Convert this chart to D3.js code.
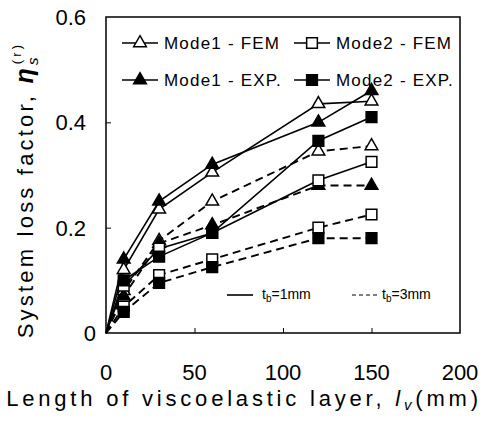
<!doctype html>
<html lang="en">
    <head>
        <meta charset="utf-8">
        <title>System loss factor</title>
        <script type="text/javascript" src="https://cdn.jsdelivr.net/npm/d3@7"></script>
        <style>
            body { margin: 0; background: #fff; }
            text { font-family: "Liberation Sans", Arial, sans-serif; fill: #000; }
        </style>
    </head>
    <body>
        <script type="text/javascript">
            var svgW = 484;
            var svgH = 424;
            var frame = {left: 106, right: 460, top: 17, bottom: 333};

            // values
            var lengths = [0, 10, 30, 60, 120, 150];
            var mode1Fem1 = [0, 0.12, 0.235, 0.305, 0.435, 0.44];
            var mode1Exp1 = [0, 0.14, 0.25, 0.32, 0.40, 0.46];
            var mode2Fem1 = [0, 0.09, 0.16, 0.19, 0.29, 0.325];
            var mode2Exp1 = [0, 0.10, 0.145, 0.19, 0.365, 0.41];
            var mode1Fem3 = [0, 0.08, 0.175, 0.25, 0.345, 0.355];
            var mode1Exp3 = [0, 0.07, 0.17, 0.205, 0.28, 0.28];
            var mode2Fem3 = [0, 0.05, 0.11, 0.14, 0.20, 0.225];
            var mode2Exp3 = [0, 0.04, 0.095, 0.125, 0.18, 0.18];

            var xTicks = [0, 50, 100, 150, 200];
            var yTicks = [0, 0.2, 0.4, 0.6];
            var legendNames = ["Mode1 - FEM", "Mode2 - FEM", "Mode1 - EXP.", "Mode2 - EXP."];
            var thickLabels = ["1mm", "3mm"];

            var series = [
                {values: mode1Fem3, mode: 1, filled: false, dashed: true},
                {values: mode1Exp3, mode: 1, filled: true, dashed: true},
                {values: mode2Fem3, mode: 2, filled: false, dashed: true},
                {values: mode2Exp3, mode: 2, filled: true, dashed: true},
                {values: mode2Fem1, mode: 2, filled: false, dashed: false},
                {values: mode2Exp1, mode: 2, filled: true, dashed: false},
                {values: mode1Fem1, mode: 1, filled: false, dashed: false},
                {values: mode1Exp1, mode: 1, filled: true, dashed: false}
            ];

            var xScale = d3.scaleLinear()
                           .domain([0, 200])
                           .range([frame.left, frame.right]);

            var yScale = d3.scaleLinear()
                           .domain([0, 0.6])
                           .range([frame.bottom, frame.top]);

            var triangle = d3.symbol().type(d3.symbolTriangle).size(70);
            var square = d3.symbol().type(d3.symbolSquare).size(115);
            var markerPath = s => s.mode === 1 ? triangle() : square();

            var svg = d3.select("body")
                        .append("svg")
                        .attr("width", svgW)
                        .attr("height", svgH);

            // frame
            svg.append("rect")
               .attr("x", frame.left)
               .attr("y", frame.top)
               .attr("width", frame.right - frame.left)
               .attr("height", frame.bottom - frame.top)
               .attr("fill", "none")
               .attr("stroke", "#000")
               .attr("stroke-width", 1.5);

            // inward ticks
            var xAxis = d3.axisTop(xScale)
                          .tickValues(xTicks.slice(1, -1))
                          .tickSize(5)
                          .tickFormat("");
            svg.append("g")
               .attr("transform", "translate(0," + frame.bottom + ")")
               .call(xAxis)
               .call(g => g.select(".domain").remove());

            var yAxis = d3.axisRight(yScale)
                          .tickValues(yTicks.slice(1, -1))
                          .tickSize(5)
                          .tickFormat("");
            svg.append("g")
               .attr("transform", "translate(" + frame.left + ",0)")
               .call(yAxis)
               .call(g => g.select(".domain").remove());

            // tick labels
            svg.selectAll("text.xlab")
               .data(xTicks)
               .enter()
               .append("text")
               .attr("class", "xlab")
               .attr("x", d => xScale(d))
               .attr("y", 380)
               .attr("text-anchor", "middle")
               .attr("font-size", 22)
               .text(d => d);

            svg.selectAll("text.ylab")
               .data(yTicks)
               .enter()
               .append("text")
               .attr("class", "ylab")
               .attr("x", d => d === 0 ? 96 : 86)
               .attr("y", d => yScale(d) + 8)
               .attr("text-anchor", "end")
               .attr("font-size", 22)
               .text(d => d === 0 ? "0" : d3.format(".1f")(d));

            // lines
            var line = d3.line()
                         .x((_, i) => xScale(lengths[i]))
                         .y(d => yScale(d));

            svg.selectAll("path.series")
               .data(series)
               .enter()
               .append("path")
               .attr("class", "series")
               .attr("d", d => line(d.values))
               .attr("fill", "none")
               .attr("stroke", "#000")
               .attr("stroke-width", d => d.dashed ? 1.9 : 1.6)
               .attr("stroke-dasharray", d => d.dashed ? "8,5" : null);

            // markers (skip the origin)
            series.forEach(s => {
                svg.selectAll(null)
                   .data(s.values.slice(1))
                   .enter()
                   .append("path")
                   .attr("d", markerPath(s))
                   .attr("transform", (d, i) => "translate(" + xScale(lengths[i + 1]) + "," + yScale(d) + ")")
                   .attr("fill", s.filled ? "#000" : "#fff")
                   .attr("stroke", "#000")
                   .attr("stroke-width", 1.5);
            });

            // legend
            var legendItems = [
                {name: legendNames[0], mode: 1, filled: false, x: 122, y: 43},
                {name: legendNames[1], mode: 2, filled: false, x: 294, y: 43},
                {name: legendNames[2], mode: 1, filled: true, x: 122, y: 80},
                {name: legendNames[3], mode: 2, filled: true, x: 294, y: 80}
            ];

            var legend = svg.selectAll("g.legend")
                            .data(legendItems)
                            .enter()
                            .append("g")
                            .attr("class", "legend")
                            .attr("transform", d => "translate(" + d.x + "," + d.y + ")");

            legend.append("line")
                  .attr("x1", 0)
                  .attr("x2", 36)
                  .attr("stroke", "#000")
                  .attr("stroke-width", 1.6);

            legend.append("path")
                  .attr("d", d => markerPath(d))
                  .attr("transform", "translate(18,0)")
                  .attr("fill", d => d.filled ? "#000" : "#fff")
                  .attr("stroke", "#000")
                  .attr("stroke-width", 1.5);

            legend.append("text")
                  .attr("x", 42)
                  .attr("y", 6)
                  .attr("font-size", 17)
                  .attr("letter-spacing", 1.2)
                  .text(d => d.name);

            // thickness legend
            var thick = svg.selectAll("g.thick")
                           .data(thickLabels)
                           .enter()
                           .append("g")
                           .attr("class", "thick")
                           .attr("transform", (_, i) => "translate(" + (227 + i * 125) + ",295)");

            thick.append("line")
                 .attr("x1", 0)
                 .attr("x2", 26)
                 .attr("stroke", "#000")
                 .attr("stroke-width", (_, i) => i === 0 ? 1.6 : 1.2)
                 .attr("stroke-dasharray", (_, i) => i === 0 ? null : "4,3");

            var thickText = thick.append("text")
                                 .attr("x", (_, i) => i === 0 ? 35 : 30)
                                 .attr("y", 4)
                                 .attr("font-size", 14);
            thickText.append("tspan").text("t");
            thickText.append("tspan")
                     .attr("dy", 3)
                     .attr("font-size", 10)
                     .text("b");
            thickText.append("tspan")
                     .attr("dy", -3)
                     .text(d => "=" + d);

            // axis titles
            var xTitle = svg.append("text")
                            .attr("x", 244)
                            .attr("y", 406)
                            .attr("text-anchor", "middle")
                            .attr("font-size", 22)
                            .attr("letter-spacing", 3.8);
            xTitle.append("tspan").text("Length of viscoelastic layer, ");
            xTitle.append("tspan")
                  .attr("font-style", "italic")
                  .text("l");
            xTitle.append("tspan")
                  .attr("dy", 4)
                  .attr("font-size", 15)
                  .attr("font-style", "italic")
                  .text("v");
            xTitle.append("tspan")
                  .attr("dy", -4)
                  .text("(mm)");

            var yTitle = svg.append("text")
                            .attr("transform", "translate(33,190) rotate(-90)")
                            .attr("text-anchor", "middle")
                            .attr("font-size", 22)
                            .attr("letter-spacing", 3.2);
            yTitle.append("tspan").text("System loss factor, ");
            yTitle.append("tspan")
                  .attr("font-style", "italic")
                  .attr("font-weight", "bold")
                  .attr("font-size", 25)
                  .text("\u03b7");
            yTitle.append("tspan")
                  .attr("dy", 5)
                  .attr("font-size", 15)
                  .attr("font-style", "italic")
                  .text("s");
            yTitle.append("tspan")
                  .attr("dx", -10)
                  .attr("dy", -17)
                  .attr("font-size", 13)
                  .text("(r)");
        </script>
    </body>
</html>
